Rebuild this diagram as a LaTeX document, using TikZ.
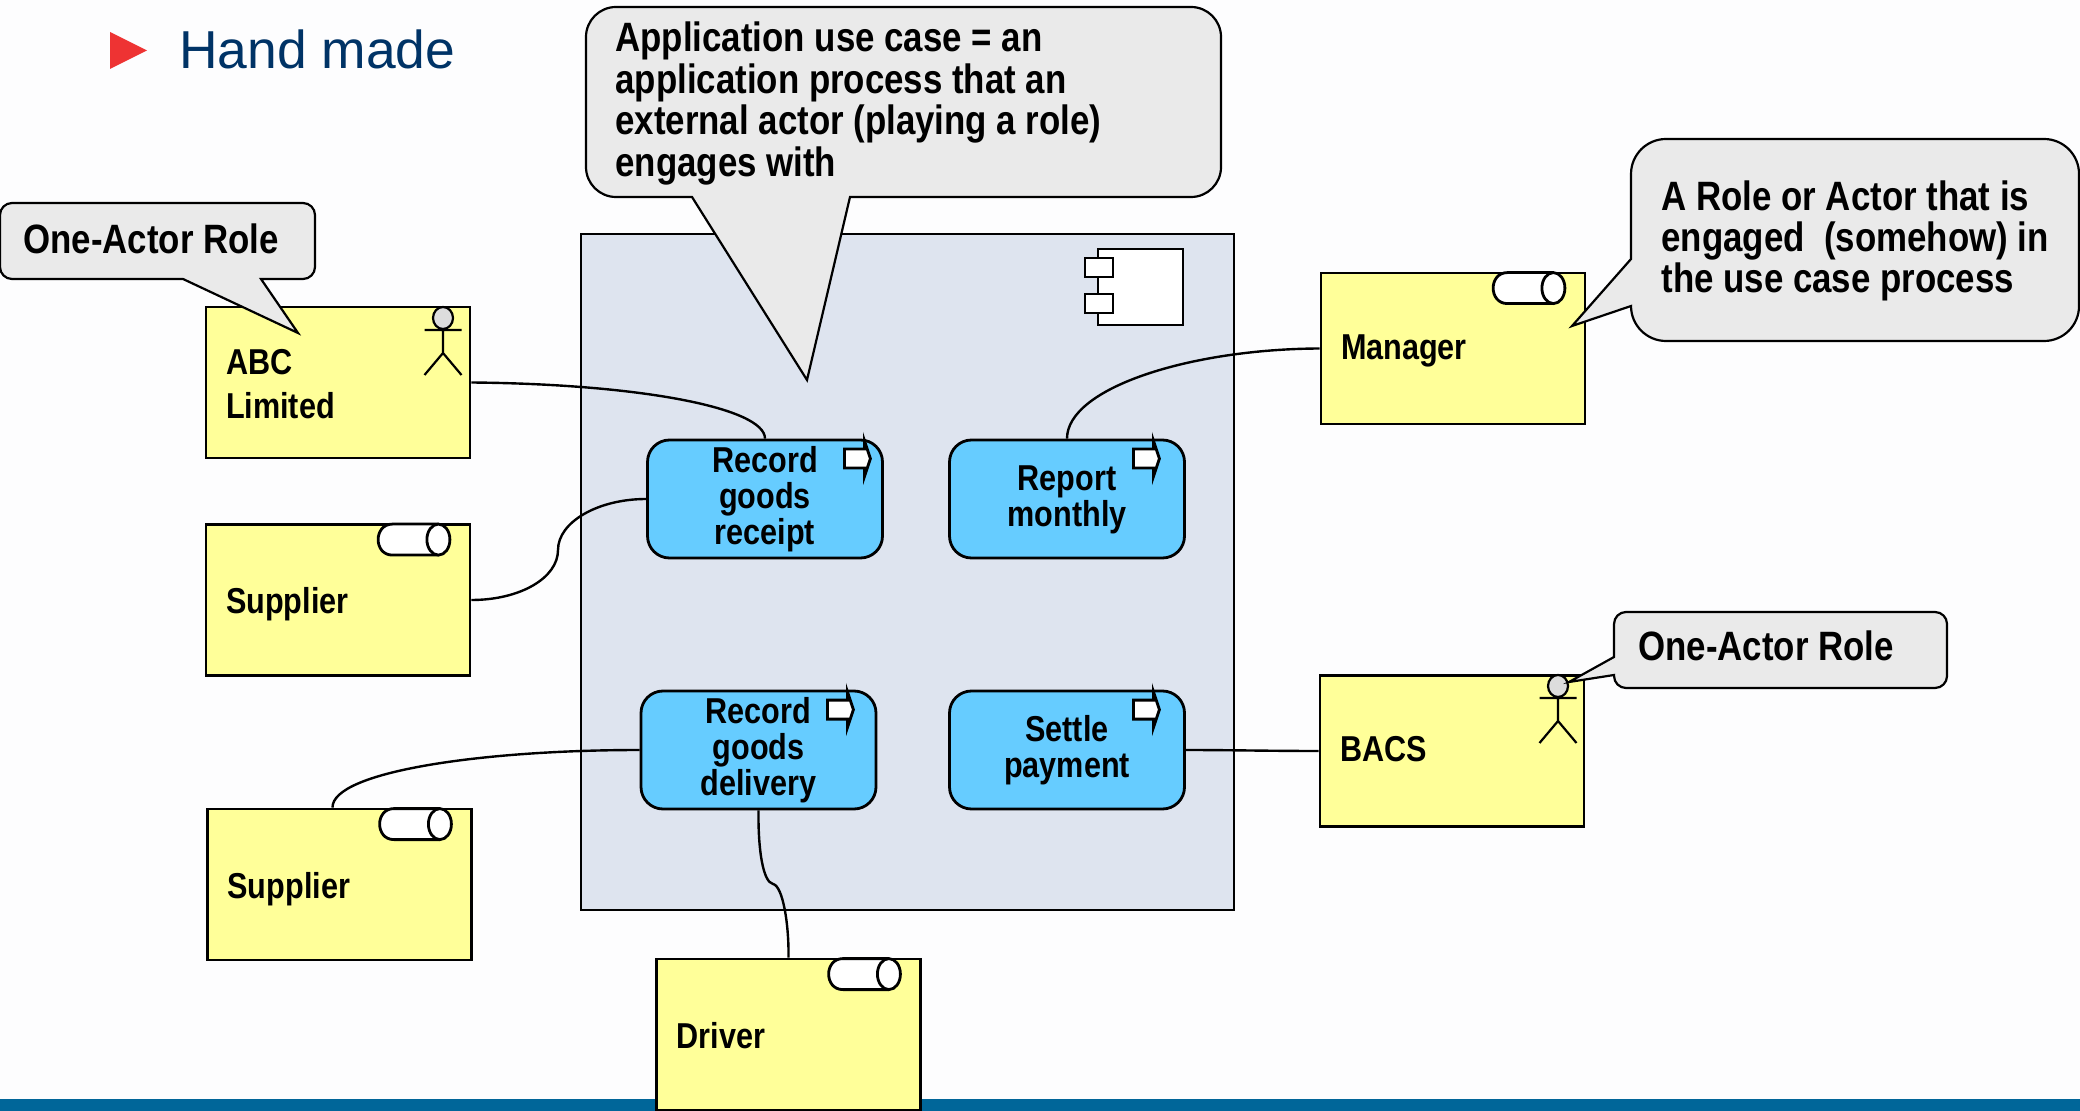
\documentclass[tikz,border=0pt]{standalone}
\usepackage{fontspec}
\setmainfont{Liberation Sans}[FakeStretch=0.85]
\newfontfamily\titlefont{Liberation Sans}
\definecolor{pagebg}{HTML}{FDFDFE}
\definecolor{barblue}{HTML}{006699}
\definecolor{panel}{HTML}{DEE4EF}
\definecolor{yellowfill}{HTML}{FFFF99}
\definecolor{bluefill}{HTML}{66CCFF}
\definecolor{calloutfill}{HTML}{EAEAEA}
\definecolor{headfill}{HTML}{DDDDDD}
\definecolor{titleblue}{HTML}{003366}
\definecolor{titlered}{HTML}{EE3333}
\tikzset{
  ln/.style={line width=1.4pt,draw=black},
  wire/.style={line width=1.2pt,draw=black},
  rolebox/.style={ln,fill=yellowfill,rectangle,minimum height=75.5pt,text width=112pt,inner xsep=10pt,inner ysep=0pt,align=left,font=\fontsize{18}{22}\selectfont\bfseries},
  procbox/.style={ln,fill=bluefill,rectangle,rounded corners=11pt,minimum width=117.5pt,minimum height=59pt,inner sep=0pt,align=center,font=\fontsize{18}{18}\selectfont\bfseries},
  balloon/.style={line width=1.1pt,draw=black,fill=calloutfill,line join=miter},
  balloontext/.style={anchor=west,inner sep=0pt,align=left,font=\fontsize{20.5}{20.7}\selectfont\bfseries},
  actorline/.style={line width=1.1pt,draw=black},
  iconline/.style={ln,fill=white}
}
\newcommand{\bl}[2]{\raisebox{-#1}[0pt][0pt]{#2}}
\newcommand{\cylicon}[1]{%
  \begin{scope}[shift={(#1.north east)}]
    \draw[iconline] (-33,1) -- (-79,1) .. controls (-98,1) and (-98,32) .. (-79,32) -- (-33,32);
    \draw[iconline] (-33,16.5) ellipse [x radius=11.5,y radius=15.5];
  \end{scope}}
\newcommand{\procicon}[2]{%
  \begin{scope}[shift={(#1.north east)},xshift=#2]
    \draw[iconline,miter limit=14] (-28,10.5) -- (-8,10.5) -- (-8,2) -- (-2,20) -- (-8,38) -- (-8,29.5) -- (-28,29.5) -- cycle;
  \end{scope}}
\newcommand{\actoricon}[2]{%
  \begin{scope}[shift={(#1,#2)}]
    \draw[actorline,fill=headfill] (0,0) ellipse [x radius=10,y radius=11];
    \draw[actorline] (-18.5,12) -- (18.5,12) (0,12) -- (0,35) (-18.5,57) -- (0,35) -- (18.5,57);
  \end{scope}}
\begin{document}
\begin{tikzpicture}[x=0.5pt,y=-0.5pt]
\useasboundingbox (0,0) rectangle (2080,1111);
\fill[pagebg] (0,0) rectangle (2080,1111);
\fill[barblue] (0,1099) rectangle (2080,1111);
% title
\fill[titlered] (110,32) -- (147,50.5) -- (110,69) -- cycle;
\node[anchor=base west,inner sep=0pt,text=titleblue,font=\titlefont\fontsize{26.7}{30}\selectfont] (title) at (179,69) {Hand made};
% component panel
\node[ln,fill=panel,rectangle,minimum width=326.5pt,minimum height=338pt,inner sep=0pt] (panel) at (907.5,572) {};
\draw[iconline] (1098,249) rectangle (1183,325);
\draw[iconline] (1085,258) rectangle (1113,277);
\draw[iconline] (1085,294) rectangle (1113,313);
% roles
\node[rolebox] (abc) at (338,382.5) {\bl{7pt}{ABC}\\\bl{7pt}{Limited}};
\node[rolebox] (sup1) at (338,600) {\bl{6.5pt}{Supplier}};
\node[rolebox] (sup2) at (339.5,884.5) {\bl{7pt}{Supplier}};
\node[rolebox] (driver) at (788.5,1034.5) {\bl{7.2pt}{Driver}};
\node[rolebox] (manager) at (1453,348.5) {\bl{5.5pt}{Manager}};
\node[rolebox] (bacs) at (1452,751) {\bl{5pt}{BACS}};
\actoricon{443}{318}
\actoricon{1558}{686}
\cylicon{sup1}
\cylicon{sup2}
\cylicon{driver}
\cylicon{manager}
% processes
\node[procbox] (rgr) at (765,499) {\bl{4.6pt}{Record}\\\bl{4.6pt}{goods}\\\bl{4.6pt}{receipt}};
\node[procbox] (report) at (1067,499) {\bl{4.9pt}{Report}\\\bl{4.9pt}{monthly}};
\node[procbox] (rgd) at (758.5,750) {\bl{4.6pt}{Record}\\\bl{4.6pt}{goods}\\\bl{4.6pt}{delivery}};
\node[procbox] (settle) at (1067,750) {\bl{4.9pt}{Settle}\\\bl{4.9pt}{payment}};
\procicon{rgr}{-5.75pt}
\procicon{report}{-12.25pt}
\procicon{rgd}{-11pt}
\procicon{settle}{-12.25pt}
% connectors
\draw[wire] (abc.east) .. controls (640,384) and (765,408) .. (rgr.north);
\coordinate (bendA) at (558,550);
\draw[wire] (sup1.east) .. controls (520,600) and (558,578) .. (bendA) .. controls (558,522) and (598,499) .. (rgr.west);
\draw[wire] (report.north) .. controls (1067,388) and (1190,349) .. (manager.west);
\draw[wire] (rgd.west) .. controls (480,750) and (332,772) .. ([xshift=-3.5pt]sup2.north);
\draw[wire] (settle.east) .. controls (1230,750) and (1270,751) .. (bacs.west);
\coordinate (bendB) at (773,884);
\draw[wire] (rgd.south) .. controls (758,850) and (763,882) .. (bendB) .. controls (783,886) and (789,925) .. (driver.north);
% balloons
\draw[balloon] (616,7) -- (1191,7) arc[start angle=-90,end angle=0,radius=30] -- (1221,167) arc[start angle=0,end angle=90,radius=30] -- (850,197) -- (807,380) -- (692,197) -- (616,197) arc[start angle=90,end angle=180,radius=30] -- (586,37) arc[start angle=180,end angle=270,radius=30] -- cycle;
\node[balloontext] (t1) at (615,103.5) {Application use case = an\\application process that an\\external actor (playing a role)\\engages with};
\draw[balloon] (12,203) -- (303,203) arc[start angle=-90,end angle=0,radius=12] -- (315,267) arc[start angle=0,end angle=90,radius=12] -- (261,279) -- (298,333) -- (183,279) -- (12,279) arc[start angle=90,end angle=180,radius=12] -- (0,215) arc[start angle=180,end angle=270,radius=12] -- cycle;
\node[balloontext] (t2) at (23,239) {One-Actor Role};
\draw[balloon] (1666,139) -- (2044,139) arc[start angle=-90,end angle=0,radius=35] -- (2079,306) arc[start angle=0,end angle=90,radius=35] -- (1666,341) arc[start angle=90,end angle=180,radius=35] -- (1631,306) -- (1572,326) -- (1631,259) -- (1631,174) arc[start angle=180,end angle=270,radius=35] -- cycle;
\node[balloontext] (t3) at (1661,241) {A Role or Actor that is\\engaged\ \ (somehow) in\\the use case process};
\draw[balloon] (1626,612) -- (1935,612) arc[start angle=-90,end angle=0,radius=12] -- (1947,676) arc[start angle=0,end angle=90,radius=12] -- (1626,688) arc[start angle=90,end angle=180,radius=12] -- (1614,675) -- (1569,682) -- (1614,657) -- (1614,624) arc[start angle=180,end angle=270,radius=12] -- cycle;
\node[balloontext] (t4) at (1638,646) {One-Actor Role};
\end{tikzpicture}
\end{document}
